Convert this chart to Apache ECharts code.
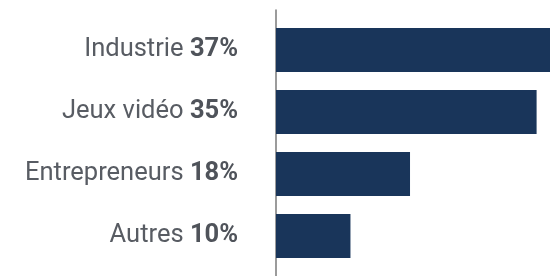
<!DOCTYPE html>
<html>
<head>
<meta charset="utf-8">
<script src="https://cdn.jsdelivr.net/npm/echarts@6/dist/echarts.min.js"></script>
<style>
  html, body { margin: 0; padding: 0; background: #fff; }
  #main { width: 550px; height: 276px; }
</style>
</head>
<body>
<div id="main"></div>
<script>
var myChart = echarts.init(document.getElementById('main'), null, {renderer: 'canvas'});

// data
var categories = ['Industrie', 'Jeux vidéo', 'Entrepreneurs', 'Autres'];
var shares = [37, 35, 18, 10];

var option = {
    backgroundColor: '#fff',
    animation: false,
    grid: [
        {left: 276, right: 0, top: 19, bottom: 9},
        // second grid only carries the long vertical axis line
        {left: 276, right: 0, top: 10, bottom: 0}
    ],
    xAxis: [
        {type: 'value', gridIndex: 0, min: 0, max: 36.8, show: false},
        {type: 'value', gridIndex: 1, min: 0, max: 1, show: false}
    ],
    yAxis: [
        {
            type: 'category',
            gridIndex: 0,
            inverse: true,
            data: categories,
            axisLine: {show: false},
            axisTick: {show: false},
            axisLabel: {
                margin: 38,
                fontFamily: 'Roboto',
                fontSize: 25.5,
                color: '#585c63',
                formatter: function (value, idx) {
                    return '{n|' + value + '} {b|' + shares[idx] + '%}';
                },
                rich: {
                    n: {fontFamily: 'Roboto', fontSize: 25.5, color: '#585c63'},
                    b: {fontFamily: 'Roboto', fontSize: 25.5, fontWeight: 'bold', color: '#4f535a'}
                }
            }
        },
        {
            type: 'category',
            gridIndex: 1,
            data: [''],
            axisLine: {show: true, lineStyle: {color: '#7a7a7a', width: 1.5}},
            axisTick: {show: false},
            axisLabel: {show: false}
        }
    ],
    series: [{
        name: 'Part',
        type: 'bar',
        xAxisIndex: 0,
        yAxisIndex: 0,
        barWidth: 44,
        clip: true,
        itemStyle: {color: '#19355a'},
        data: shares
    }]
};

myChart.setOption(option);
</script>
</body>
</html>
